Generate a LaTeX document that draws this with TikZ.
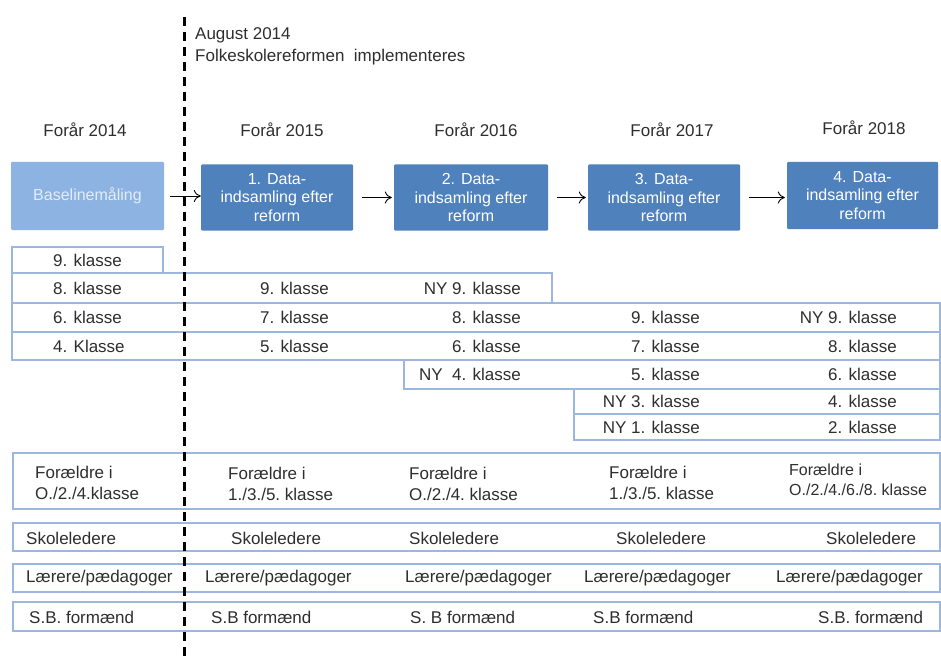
\documentclass[tikz,border=0pt]{standalone}
\usepackage{fontspec}
\setmainfont{Liberation Sans}
\usetikzlibrary{arrows.meta}
\definecolor{boxblue}{HTML}{4F81BD}
\definecolor{lightbox}{HTML}{8DB3E2}
\definecolor{lighttext}{HTML}{E4ECF7}
\definecolor{rowline}{HTML}{9BB7DD}
\definecolor{txt}{HTML}{2E2E2E}
\begin{document}
\begin{tikzpicture}[x=1pt,y=-1pt,
  lbl/.style={text=txt, inner sep=0pt, font=\fontsize{17}{20.5}\selectfont},
  lblw/.style={lbl, anchor=west},
  lble/.style={lbl, anchor=east},
  stagebox/.style={fill=boxblue, text=white, align=center, minimum width=152pt,
    minimum height=66pt, inner sep=0pt, rounded corners=1pt,
    font=\fontsize{16}{18.5}\selectfont},
  basebox/.style={stagebox, fill=lightbox, text=lighttext},
  row/.style={draw=rowline, line width=1.1pt},
  flow/.style={-{To[length=7pt,width=12pt]}, line width=0.9pt, black},
  dashline/.style={line width=3pt, black, dash pattern=on 9pt off 6pt}]
\useasboundingbox (0,0) rectangle (941,660);

% top annotation
\node[lblw] (aug) at (195,35) {August 2014};
\node[lblw] (impl) at (195,57) {Folkeskolereformen\ \ implementeres};

% headers
\node[lbl] (h1) at (85,130) {Forår 2014};
\node[lbl] (h2) at (282,130) {Forår 2015};
\node[lbl] (h3) at (476,130) {Forår 2016};
\node[lbl] (h4) at (672,130) {Forår 2017};
\node[lbl] (h5) at (864,128) {Forår 2018};

% stage boxes
\node[basebox, minimum width=153pt, minimum height=68pt] (base) at (87.5,196) {Baselinemåling};
\node[stagebox] (d1) at (277,197.5) {1. Data-\\indsamling efter\\reform};
\node[stagebox, minimum width=154pt] (d2) at (471,197.5) {2. Data-\\indsamling efter\\reform};
\node[stagebox] (d3) at (664,197.5) {3. Data-\\indsamling efter\\reform};
\node[stagebox, minimum width=151pt, minimum height=67pt] (d4) at (862.5,195.5) {4. Data-\\indsamling efter\\reform};

\draw[flow, shorten <=6pt] (base.east) -- (base.east -| d1.west);
\draw[flow, shorten <=9pt, shorten >=2pt] (d1.east) -- (d2.west);
\draw[flow, shorten <=9pt, shorten >=2pt] (d2.east) -- (d3.west);
\draw[flow, shorten <=9pt, shorten >=2pt] (d3.east) -- (d3.east -| d4.west);

% class rows
\draw[row] (12,247) rectangle (163,273);
\draw[row] (12,273) rectangle (552,303);
\draw[row] (12,303) rectangle (940,332);
\draw[row] (12,332) rectangle (940,360);
\draw[row] (404,360) rectangle (940,389);
\draw[row] (574,389) rectangle (940,414);
\draw[row] (574,414) rectangle (940,440);

\node[lblw] (r1c1) at (53,260) {9. klasse};
\node[lblw] (r2c1) at (53,288) {8. klasse};
\node[lblw] (r2c2) at (260,288) {9. klasse};
\node[lble] (r2c3) at (521,288) {NY 9. klasse};
\node[lblw] (r3c1) at (53,317.5) {6. klasse};
\node[lblw] (r3c2) at (260,317.5) {7. klasse};
\node[lble] (r3c3) at (521,317.5) {8. klasse};
\node[lble] (r3c4) at (700,317.5) {9. klasse};
\node[lble] (r3c5) at (897,317.5) {NY 9. klasse};
\node[lblw] (r4c1) at (53,346) {4. Klasse};
\node[lblw] (r4c2) at (260,346) {5. klasse};
\node[lble] (r4c3) at (521,346) {6. klasse};
\node[lble] (r4c4) at (700,346) {7. klasse};
\node[lble] (r4c5) at (897,346) {8. klasse};
\node[lble] (r5c3) at (521,374.5) {NY\ \ 4. klasse};
\node[lble] (r5c4) at (700,374.5) {5. klasse};
\node[lble] (r5c5) at (897,374.5) {6. klasse};
\node[lble] (r6c4) at (700,401.5) {NY 3. klasse};
\node[lble] (r6c5) at (897,401.5) {4. klasse};
\node[lble] (r7c4) at (700,427) {NY 1. klasse};
\node[lble] (r7c5) at (897,427) {2. klasse};

% respondent rows
\draw[row] (13,453) rectangle (940,509);
\draw[row] (13,523) rectangle (940,551);
\draw[row] (13,564) rectangle (940,592);
\draw[row] (13,602) rectangle (940,631);

\node[lblw, align=left] (p1) at (35,483) {Forældre i\\O./2./4.klasse};
\node[lblw, align=left] (p2) at (228,484) {Forældre i\\1./3./5.\ klasse};
\node[lblw, align=left] (p3) at (409,484) {Forældre i\\O./2./4.\ klasse};
\node[lblw, align=left] (p4) at (609,483) {Forældre i\\1./3./5.\ klasse};
\node[lblw, align=left, font=\fontsize{16}{20.5}\selectfont] (p5) at (789,480) {Forældre i\\O./2./4./6./8.\ klasse};

\node[lblw] (s1) at (26,538) {Skoleledere};
\node[lblw] (s2) at (231,538) {Skoleledere};
\node[lblw] (s3) at (409,538) {Skoleledere};
\node[lblw] (s4) at (616,538) {Skoleledere};
\node[lblw] (s5) at (826,538) {Skoleledere};

\node[lblw] (l1) at (26,578) {Lærere/pædagoger};
\node[lblw] (l2) at (205,578) {Lærere/pædagoger};
\node[lblw] (l3) at (405,578) {Lærere/pædagoger};
\node[lblw] (l4) at (584,578) {Lærere/pædagoger};
\node[lblw] (l5) at (776,578) {Lærere/pædagoger};

\node[lblw] (b1) at (29,617) {S.B. formænd};
\node[lblw] (b2) at (211,617) {S.B formænd};
\node[lblw] (b3) at (410,617) {S. B formænd};
\node[lblw] (b4) at (593,617) {S.B formænd};
\node[lblw] (b5) at (818,617) {S.B. formænd};

% reform line
\coordinate (reftop) at (184,17);
\coordinate (refbot) at (184,660);
\draw[dashline] (reftop) -- (refbot);
\end{tikzpicture}
\end{document}
